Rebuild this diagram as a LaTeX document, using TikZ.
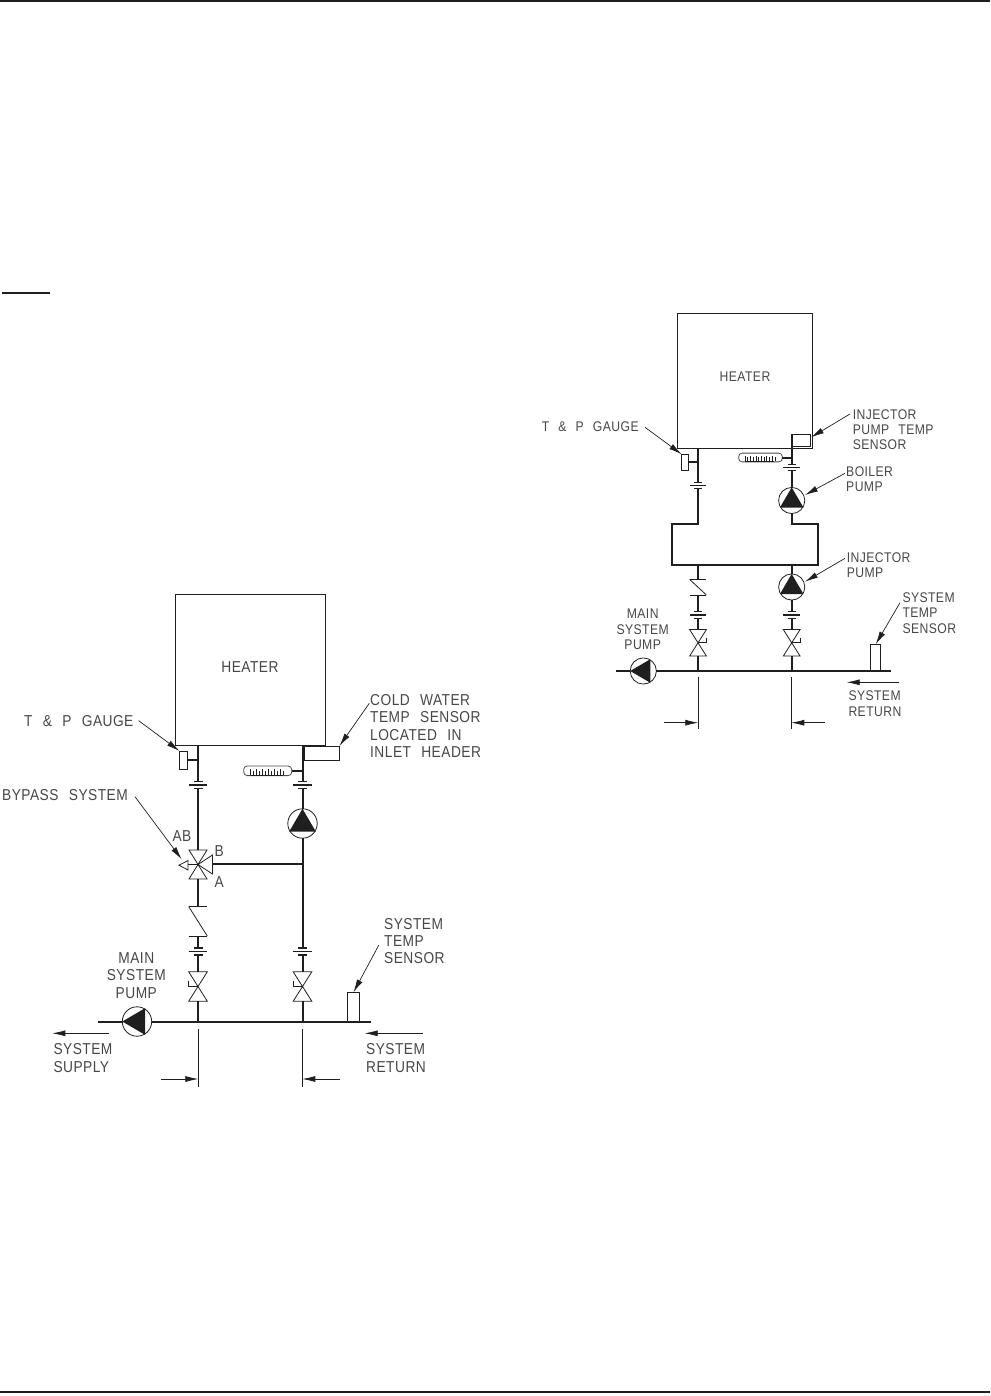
\documentclass[tikz,border=0pt]{standalone}
\usepackage{fontspec}
\setmainfont[LetterSpace=3,WordSpace=2.4,FakeStretch=0.87]{Liberation Sans}
\usetikzlibrary{arrows.meta}
\definecolor{ink}{gray}{0.12}
\tikzset{
	pipe/.style={draw=ink, line width=2pt},
	thin/.style={draw=ink, line width=0.8pt},
	box/.style={draw=ink, line width=0.8pt, rectangle, inner sep=0pt, outer sep=0pt},
	lead/.style={draw=ink, line width=0.7pt, -{Latex[length=13pt,width=6pt]}},
	lbl/.style={text=black!72, align=left, anchor=west, inner sep=0pt, font=\fontsize{15.8}{17.4}\selectfont},
	lblr/.style={lbl, font=\fontsize{14}{15.4}\selectfont},
	pics/unionbars/.style={code={
		\draw[thin, line width=1.2pt] (-4.5,-3.5) -- (4.5,-3.5);
		\draw[thin, line width=1.2pt] (-9.3,0) -- (9.3,0);
		\draw[thin, line width=1.2pt] (-4.5,3.5) -- (4.5,3.5);
		\coordinate (-top) at (0,-3.5);
		\coordinate (-bot) at (0,3.5);
	}},
	pics/ballvalve/.style={code={
		\draw[thin] (-9.3,-14.7) -- (9.3,-14.7) -- (-9.3,14.7) -- (9.3,14.7) -- cycle;
		\draw[thin] (-9.3,-5.8) -- (-9.3,0) -- (0,0);
		\coordinate (-top) at (0,-14.7);
		\coordinate (-bot) at (0,14.7);
	}},
	pics/checkvalve/.style={code={
		\draw[thin] (-9.3,-14.7) -- (9.3,-14.7);
		\draw[thin] (-9.3,-14.7) -- (9.3,14.7);
		\draw[thin] (-9.3,14.7) -- (9.3,14.7);
		\coordinate (-top) at (0,-14.7);
		\coordinate (-bot) at (0,14.7);
	}},
	pics/pumpmark/.style={code={
		\draw[thin] (0,0) circle (14.7);
		\fill[ink] (0,-14.7) -- (13.3,8) -- (-13.3,8) -- cycle;
		\coordinate (-top) at (0,-14.7);
		\coordinate (-bot) at (0,14.7);
	}},
	pics/thermo/.style={code={
		\draw[thin, rounded corners=3.5pt, draw=black!70] (-24,-4.8) rectangle (24,4.8);
		\draw[thin] (-17,4.2) -- (15,4.2);
		\foreach \tx in {-17,-11,-5,1,7,13} {
			\draw[thin] (\tx,4.2) -- (\tx,-2.2);
			\draw[thin] (\tx+3,4.2) -- (\tx+3,-0.2);
		}
		\coordinate (-east) at (24,0);
	}}
}

\begin{document}
\begin{tikzpicture}[x=1pt,y=-1pt]
	\useasboundingbox (0,0) rectangle (990,1396);
	\draw[pipe] (0,1) coordinate (ruleA) -- (990,1) coordinate (ruleB);
	\draw[pipe] (0,1392) coordinate (ruleC) -- (990,1392) coordinate (ruleD);
	\draw[pipe] (2,293) coordinate (noteA) -- (50,293) coordinate (noteB);

	% left diagram
	\node[box, minimum width=150pt, minimum height=151pt] (heaterL) at (250.5,669.5) {};
	\node[lbl, anchor=center] (heaterLtxt) at (250,667) {HEATER};
	\node[box, minimum width=8pt, minimum height=18pt] (gaugeL) at (183.5,760) {};
	\node[box, minimum width=35.5pt, minimum height=14.5pt] (coldL) at (321.7,753.2) {};
	\node[box, minimum width=11.6pt, minimum height=29.2pt] (tempL) at (353.5,1006.9) {};
	\coordinate (mainLa) at (98,1021.5);
	\coordinate (mainLb) at (370.5,1021.5);
	\coordinate (teeL) at (302.5,864);
	\coordinate (hpL) at (198,745);
	\coordinate (hqL) at (302.5,745);
	\coordinate (jpL) at (198,1021.5);
	\coordinate (jqL) at (302.5,1021.5);
	\coordinate (gpL) at (198,760);
	\coordinate (tqL) at (302.5,770.8);

	\pic (u1L) at (198,785) {unionbars};
	\pic (u2L) at (198,951.5) {unionbars};
	\pic (u3L) at (302.5,785) {unionbars};
	\pic (u4L) at (302.5,951.5) {unionbars};
	\pic (b1L) at (198,986.5) {ballvalve};
	\pic (b2L) at (302.5,986.5) {ballvalve};
	\pic (c1L) at (198,921.3) {checkvalve};
	\pic (p1L) at (302.5,823.5) {pumpmark};
	\pic[rotate=90] (p2L) at (137,1021.5) {pumpmark};
	\pic (t1L) at (267.7,770.8) {thermo};

	% three way valve
	\coordinate (v3L) at (198,864.5);
	\draw[thin] (189,850) -- (207,850) -- (189,879) -- (207,879) -- cycle;
	\draw[thin] (v3L) -- (212.5,855) -- (212.5,874) -- cycle;
	\draw[thin] (v3L) -- (188,864.5);
	\draw[thin] (188,860.5) -- (188,870) -- (179,865.2) -- cycle;

	\draw[pipe] (hpL) -- (u1L-top);
	\draw[pipe] (u1L-bot) -- (198,850);
	\draw[pipe] (198,879) -- (c1L-top);
	\draw[pipe] (c1L-bot) -- (u2L-top);
	\draw[pipe] (u2L-bot) -- (b1L-top);
	\draw[pipe] (b1L-bot) -- (jpL);
	\draw[pipe] (hqL) -- (u3L-top);
	\draw[pipe] (u3L-bot) -- (p1L-top);
	\draw[pipe] (p1L-bot) -- (u4L-top);
	\draw[pipe] (u4L-bot) -- (b2L-top);
	\draw[pipe] (b2L-bot) -- (jqL);
	\draw[pipe] (212.5,864) -- (teeL);
	\draw[pipe] (mainLa) -- (p2L-top);
	\draw[pipe] (p2L-bot) -- (mainLb);
	\draw[pipe] (gaugeL.east) -- (gpL);
	\draw[pipe] (t1L-east) -- (tqL);

	\draw[lead] (138.7,720.7) coordinate (ga) -- (gaugeL.north west);
	\draw[lead] (135,796.7) coordinate (gb) -- (181.7,859.3) coordinate (gc);
	\draw[lead] (369.3,703.3) coordinate (gd) -- (coldL.north east);
	\draw[lead] (378.7,945.3) coordinate (ge) -- (tempL.north);
	\draw[lead] (109,1033.3) coordinate (sa) -- (52.3,1033.3) coordinate (sb);
	\draw[lead] (422.7,1033.3) coordinate (sc) -- (364.7,1033.3) coordinate (sd);
	\draw[thin] (198.3,1028.7) coordinate (da) -- (198.3,1086.7) coordinate (db);
	\draw[thin] (302.3,1028.7) coordinate (dc) -- (302.3,1086.7) coordinate (dd);
	\draw[lead] (161,1079) coordinate (de) -- (198.3,1079) coordinate (df);
	\draw[lead] (340,1079) coordinate (dg) -- (302.3,1079) coordinate (dh);

	\node[lbl] (gaugeLtxt) at (24,720.7) {T \& P GAUGE};
	\node[lbl] (coldLtxt) at (370,726) {COLD WATER\\TEMP SENSOR\\LOCATED IN\\INLET HEADER};
	\node[lbl] (bypassL) at (2,795) {BYPASS SYSTEM};
	\node[lbl, anchor=center] (abL) at (182,836) {AB};
	\node[lbl, anchor=center] (bL) at (219.3,851.3) {B};
	\node[lbl, anchor=center] (aL) at (219.3,882.3) {A};
	\node[lbl, anchor=center, align=center] (mainLtxt) at (136.3,975.3) {MAIN\\SYSTEM\\PUMP};
	\node[lbl] (tempLtxt) at (384,941) {SYSTEM\\TEMP\\SENSOR};
	\node[lbl] (supplyL) at (53.3,1058) {SYSTEM\\SUPPLY};
	\node[lbl] (returnL) at (366,1058) {SYSTEM\\RETURN};

	% right diagram
	\node[box, minimum width=135pt, minimum height=135pt] (heaterR) at (745,380.5) {};
	\node[lblr, anchor=center] (heaterRtxt) at (745,377) {HEATER};
	\node[box, minimum width=7pt, minimum height=16pt] (gaugeR) at (685.2,462.3) {};
	\node[box, minimum width=19.4pt, minimum height=12.7pt] (injR) at (801,440.3) {};
	\node[box, minimum width=10pt, minimum height=26.7pt] (tempR) at (875.7,657.6) {};
	\coordinate (mainRa) at (615.7,671);
	\coordinate (mainRb) at (891,671);
	\coordinate (hpR) at (698,448);
	\coordinate (hqR) at (791.7,434);
	\coordinate (gpR) at (698,462.3);
	\coordinate (tqR) at (791.7,457.5);
	\coordinate (lpA) at (698,524);
	\coordinate (lpB) at (672,524);
	\coordinate (lpC) at (672,564.7);
	\coordinate (lpD) at (818,564.7);
	\coordinate (lpE) at (818,524);
	\coordinate (lpF) at (791.7,524);
	\coordinate (jbR) at (698,564.7);
	\coordinate (jcR) at (791.7,564.7);
	\coordinate (jpR) at (698,671);
	\coordinate (jqR) at (791.7,671);

	\pic[scale=.9] (u1R) at (698,485.7) {unionbars};
	\pic[scale=.9] (u2R) at (791.7,467.7) {unionbars};
	\pic[scale=.9] (u3R) at (698,615) {unionbars};
	\pic[scale=.9] (u4R) at (791.7,615) {unionbars};
	\pic[scale=.9, xscale=-1] (b1R) at (698,642.8) {ballvalve};
	\pic[scale=.9, xscale=-1] (b2R) at (791.7,642.8) {ballvalve};
	\pic[xscale=.9, yscale=.53] (c1R) at (698,587.2) {checkvalve};
	\pic[scale=.89] (p1R) at (791.7,500.5) {pumpmark};
	\pic[scale=.89] (p2R) at (791.7,587) {pumpmark};
	\pic[scale=.89, rotate=90] (p3R) at (643.3,671) {pumpmark};
	\pic[scale=.91] (t1R) at (760.5,457.5) {thermo};

	\draw[pipe] (hpR) -- (u1R-top);
	\draw[pipe] (u1R-bot) -- (lpA) -- (lpB) -- (lpC) -- (lpD) -- (lpE) -- (lpF) -- (p1R-bot);
	\draw[pipe] (hqR) -- (u2R-top);
	\draw[pipe] (u2R-bot) -- (p1R-top);
	\draw[pipe] (jbR) -- (c1R-top);
	\draw[pipe] (c1R-bot) -- (u3R-top);
	\draw[pipe] (u3R-bot) -- (b1R-top);
	\draw[pipe] (b1R-bot) -- (jpR);
	\draw[pipe] (jcR) -- (p2R-top);
	\draw[pipe] (p2R-bot) -- (u4R-top);
	\draw[pipe] (u4R-bot) -- (b2R-top);
	\draw[pipe] (b2R-bot) -- (jqR);
	\draw[pipe] (mainRa) -- (p3R-top);
	\draw[pipe] (p3R-bot) -- (mainRb);
	\draw[pipe] (gaugeR.east) -- (gpR);
	\draw[pipe] (t1R-east) -- (tqR);

	\draw[lead] (645,427.3) coordinate (ra) -- (gaugeR.north west);
	\draw[lead] (850,414) coordinate (rb) -- (811,437.3) coordinate (rc);
	\draw[lead] (845,473.3) coordinate (rd) -- (805,495) coordinate (re);
	\draw[lead] (845,558.3) coordinate (rf) -- (805,581.7) coordinate (rg);
	\draw[lead] (900,602.7) coordinate (rh) -- (tempR.north);
	\draw[lead] (899.3,682.3) coordinate (ri) -- (846.7,682.3) coordinate (rj);
	\draw[thin] (698.3,677.3) coordinate (rk) -- (698.3,729) coordinate (rl);
	\draw[thin] (791.3,677.3) coordinate (rm) -- (791.3,729) coordinate (rn);
	\draw[lead] (664.3,722.7) coordinate (ro) -- (698.3,722.7) coordinate (rp);
	\draw[lead] (825,722.7) coordinate (rq) -- (791.3,722.7) coordinate (rr);

	\node[lblr] (gaugeRtxt) at (541.7,427) {T \& P GAUGE};
	\node[lblr] (injRtxt) at (852.7,429.7) {INJECTOR\\PUMP TEMP\\SENSOR};
	\node[lblr] (boilerR) at (846,479.3) {BOILER\\PUMP};
	\node[lblr] (injpumpR) at (846.7,565) {INJECTOR\\PUMP};
	\node[lblr, anchor=center, align=center] (mainRtxt) at (642.7,629.3) {MAIN\\SYSTEM\\PUMP};
	\node[lblr] (tempRtxt) at (902.3,613) {SYSTEM\\TEMP\\SENSOR};
	\node[lblr] (returnR) at (848.3,703.7) {SYSTEM\\RETURN};
\end{tikzpicture}
\end{document}
